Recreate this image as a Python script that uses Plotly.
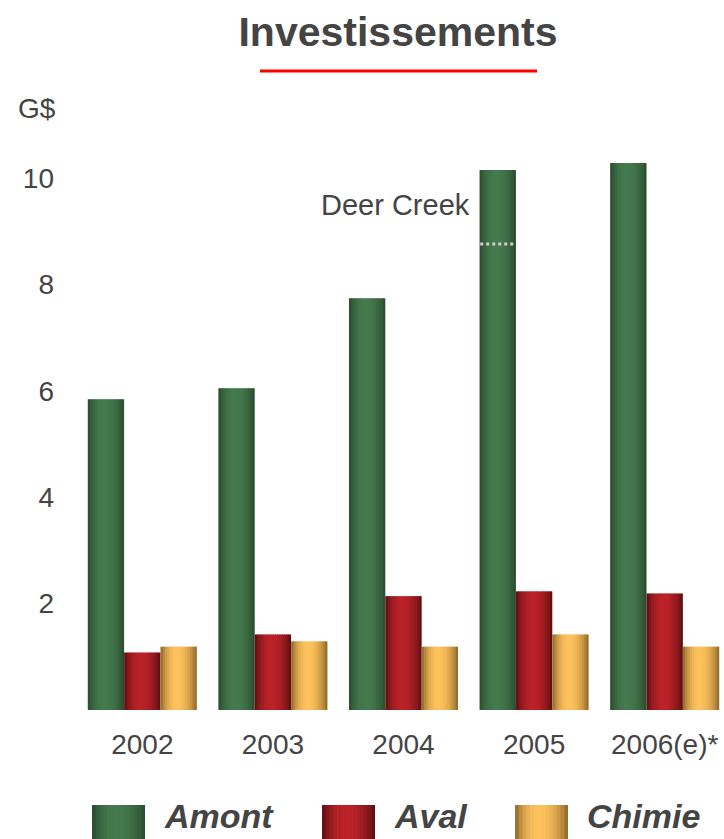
import plotly.graph_objects as go
import numpy as np

# ---- data ----
categories = ["2002", "2003", "2004", "2005", "2006(e)*"]
amont = [5.84, 6.05, 7.74, 10.15, 10.28]
aval = [1.08, 1.42, 2.14, 2.23, 2.19]
chimie = [1.19, 1.29, 1.19, 1.42, 1.19]
series_names = ["Amont", "Aval", "Chimie"]
deer_creek_value = 8.76
deer_creek_index = 3
y_ticks = [2, 4, 6, 8, 10]

# ---- style ----
edge_colors = [(0x27, 0x45, 0x2b), (0x50, 0x0c, 0x0e), (0x80, 0x5c, 0x24)]
center_colors = [(0x44, 0x7a, 0x4d), (0xba, 0x22, 0x27), (0xfe, 0xc2, 0x5c)]
FONT = "Liberation Sans, Arial, sans-serif"
TXT = "#444444"

n_strips = 16
group_w = 0.835
bw = group_w / 3
x_idx = list(range(len(categories)))


def shade(c_edge, c_center, t):
    # cylindrical shading: dark edges, bright around 45%
    peak = 0.45
    if t <= peak:
        f = np.sin(np.pi / 2 * t / peak)
    else:
        f = np.sin(np.pi / 2 * (1 - t) / (1 - peak))
    f = f ** 0.7
    r, g, b = [int(round(e + (c - e) * f)) for e, c in zip(c_edge, c_center)]
    return f"rgb({r},{g},{b})"


fig = go.Figure()
all_vals = [amont, aval, chimie]
for s, vals in enumerate(all_vals):
    for k in range(n_strips):
        t = (k + 0.5) / n_strips
        sw = bw / n_strips
        fig.add_trace(go.Bar(
            x=x_idx, y=vals,
            offset=-group_w / 2 + s * bw + k * sw,
            width=sw * 1.35 if k < n_strips - 1 else sw,
            marker=dict(color=shade(edge_colors[s], center_colors[s], t), line=dict(width=0)),
            name=series_names[s], showlegend=False, hoverinfo="skip",
        ))

# Deer Creek marker on the 2005 Amont bar
x0 = deer_creek_index - group_w / 2
fig.add_shape(type="line", xref="x", yref="y", x0=x0 + 0.005, x1=x0 + bw - 0.005,
              y0=deer_creek_value, y1=deer_creek_value,
              line=dict(color="#cfcfcf", width=3, dash="dot"))
fig.add_annotation(x=x0 - 0.06, y=9.5, xref="x", yref="y", text="Deer Creek",
                   showarrow=False, xanchor="right", yanchor="middle",
                   font=dict(family=FONT, size=29, color=TXT))

L, R, T, B = 77, 0, 130, 129
W, H = 724, 839
pw, ph = W - L - R, H - T - B

def px_x(x):
    return (x - L) / pw

def px_y(y):
    return (H - B - y) / ph

# red line under title
fig.add_shape(type="line", xref="paper", yref="paper", x0=px_x(260), x1=px_x(537),
              y0=px_y(71), y1=px_y(71), line=dict(color="#ff0000", width=3))

# unit label
fig.add_annotation(x=px_x(37), y=px_y(108), xref="paper", yref="paper", text="G$",
                   showarrow=False, xanchor="center", yanchor="middle",
                   font=dict(family=FONT, size=28, color=TXT))

# custom legend with shaded swatches
legend_x = [92, 322, 515]
for s, name in enumerate(series_names):
    sx = legend_x[s]
    sw_px = 53
    n = 14
    for k in range(n):
        t = (k + 0.5) / n
        a = sx + k * sw_px / n
        b = sx + (k + 1) * sw_px / n + (0.6 if k < n - 1 else 0)
        fig.add_shape(type="rect", xref="paper", yref="paper",
                      x0=px_x(a), x1=px_x(b), y0=px_y(805), y1=px_y(839),
                      line=dict(width=0), fillcolor=shade(edge_colors[s], center_colors[s], t),
                      layer="above")
    fig.add_annotation(x=px_x(sx + sw_px + 17), y=px_y(816), xref="paper", yref="paper",
                       text=f"<b><i>{name}</i></b>", showarrow=False, xanchor="left",
                       yanchor="middle", font=dict(family=FONT, size=34, color=TXT))

fig.update_layout(
    width=W, height=H,
    margin=dict(l=L, r=R, t=T, b=B, pad=0),
    paper_bgcolor="white", plot_bgcolor="white",
    barmode="overlay",
    title=dict(text="<b>Investissements</b>", x=398 / W, xanchor="center",
               y=1 - 32 / H, yanchor="middle", yref="container",
               font=dict(family=FONT, size=41, color=TXT)),
    xaxis=dict(range=[-0.5, -0.5 + pw / 130.6], tickvals=x_idx, ticktext=categories,
               showgrid=False, zeroline=False, showline=False, ticks="",
               ticklabelstandoff=15,
               tickfont=dict(family=FONT, size=28, color=TXT)),
    yaxis=dict(range=[0, ph / 53.2], tickvals=y_ticks, showgrid=False, zeroline=False,
               showline=False, ticks="", ticklabelstandoff=22,
               tickfont=dict(family=FONT, size=28, color=TXT)),
    showlegend=False,
)

fig.write_html("out.html", config={"displayModeBar": False},
               post_script="document.body.style.margin='0';document.body.style.overflow='hidden';")
